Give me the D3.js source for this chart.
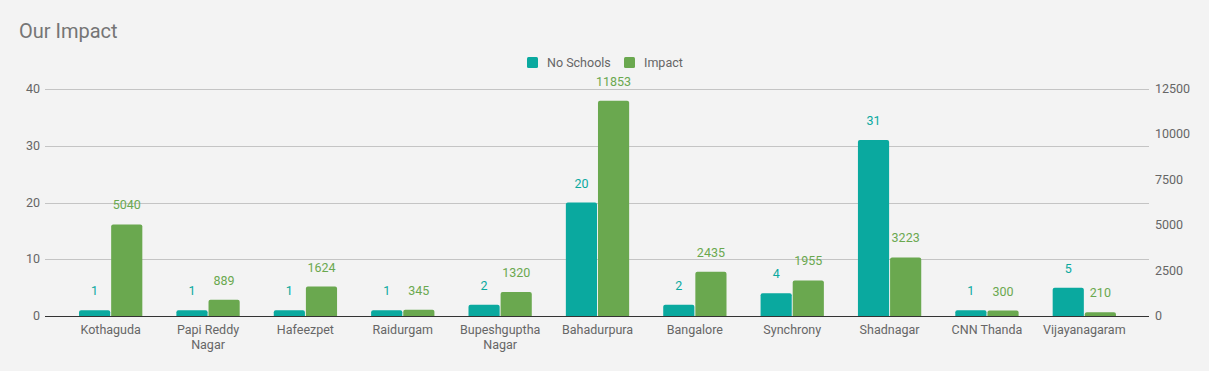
<!DOCTYPE html>
<html>
<head>
<meta charset="utf-8">
<script src="https://cdn.jsdelivr.net/npm/d3@7"></script>
<style>
  body { margin: 0; background: #f3f3f3; }
  text { font-family: Roboto, "Noto Sans", sans-serif; }
</style>
</head>
<body>
<div id="chart"></div>
<script>
const categories = ['Kothaguda', 'Papi Reddy Nagar', 'Hafeezpet', 'Raidurgam', 'Bupeshguptha Nagar',
  'Bahadurpura', 'Bangalore', 'Synchrony', 'Shadnagar', 'CNN Thanda', 'Vijayanagaram']
const schools = [1, 1, 1, 1, 2, 20, 2, 4, 31, 1, 5]
const impact = [5040, 889, 1624, 345, 1320, 11853, 2435, 1955, 3223, 300, 210]
const leftTicks = [0, 10, 20, 30, 40]
const rightTicks = [0, 2500, 5000, 7500, 10000, 12500]
const seriesNames = ['No Schools', 'Impact']

const W = 1209, H = 371
const teal = '#0aa99f', green = '#6aa84f'

const svg = d3.select('#chart').append('svg').attr('width', W).attr('height', H)
svg.append('rect').attr('width', W).attr('height', H).attr('fill', '#f3f3f3')

svg.append('text').attr('x', 19).attr('y', 38).text('Our Impact')
  .attr('font-size', 20).attr('fill', '#757575')

const gridL = 45, gridR = 1149
const yL = d3.scaleLinear().domain([0, 40]).range([316, 89])
const yR = d3.scaleLinear().domain([0, 12500]).range([316, 89])
const x = d3.scaleBand().domain(categories).range([62, 1133]).paddingInner(0.35).paddingOuter(0.175)
const x1 = d3.scaleBand().domain(seriesNames).range([0, x.bandwidth()]).paddingInner(0.03)

// gridlines
svg.selectAll('line.grid').data(leftTicks.filter(d => d > 0)).enter().append('line')
  .attr('x1', gridL).attr('x2', gridR)
  .attr('y1', d => Math.round(yL(d)) + 0.5).attr('y2', d => Math.round(yL(d)) + 0.5)
  .attr('stroke', '#c4c4c4').attr('stroke-width', 1)

// left axis labels
svg.selectAll('text.yl').data(leftTicks).enter().append('text')
  .attr('x', 40).attr('y', d => yL(d) + 4).attr('text-anchor', 'end')
  .attr('font-size', 12.5).attr('fill', '#666').text(d => d)

// right axis labels
svg.selectAll('text.yr').data(rightTicks).enter().append('text')
  .attr('x', 1155).attr('y', d => yR(d) + 4).attr('text-anchor', 'start')
  .attr('font-size', 12.5).attr('fill', '#666').text(d => d)

function topRounded(x0, y0, w, h, r) {
  r = Math.min(r, h, w / 2)
  return `M${x0},${y0 + h}V${y0 + r}Q${x0},${y0} ${x0 + r},${y0}H${x0 + w - r}Q${x0 + w},${y0} ${x0 + w},${y0 + r}V${y0 + h}Z`
}

const rows = categories.map((c, i) => ({ c, s: schools[i], m: impact[i] }))
const g = svg.selectAll('g.cat').data(rows).enter().append('g')
  .attr('transform', d => `translate(${x(d.c)},0)`)

g.append('path')
  .attr('d', d => topRounded(x1('No Schools'), yL(d.s), x1.bandwidth(), 316 - yL(d.s), 2))
  .attr('fill', teal)
g.append('path')
  .attr('d', d => topRounded(x1('Impact'), yR(d.m), x1.bandwidth(), 316 - yR(d.m), 2))
  .attr('fill', green)

g.append('text').attr('x', x1('No Schools') + x1.bandwidth() / 2).attr('y', d => yL(d.s) - 15)
  .attr('text-anchor', 'middle').attr('font-size', 12.5).attr('fill', teal).text(d => d.s)
g.append('text').attr('x', x1('Impact') + x1.bandwidth() / 2).attr('y', d => yR(d.m) - 15)
  .attr('text-anchor', 'middle').attr('font-size', 12.5).attr('fill', green).text(d => d.m)

// category labels, wrapping long names onto two lines
g.each(function (d) {
  const words = d.c.split(' ')
  let lines = [d.c]
  if (d.c.length > 14) {
    lines = [words.slice(0, -1).join(' '), words[words.length - 1]]
  }
  const t = d3.select(this).append('text').attr('text-anchor', 'middle')
    .attr('font-size', 12.5).attr('fill', '#666')
  lines.forEach((l, k) => {
    t.append('tspan').attr('x', x.bandwidth() / 2).attr('y', 334 + k * 15).text(l)
  })
})

// baseline
svg.append('line').attr('x1', gridL).attr('x2', gridR).attr('y1', 316.5).attr('y2', 316.5)
  .attr('stroke', '#333').attr('stroke-width', 1)

// legend
const legend = svg.append('g')
const items = [{ n: 'No Schools', c: teal, x: 527 }, { n: 'Impact', c: green, x: 624 }]
items.forEach(it => {
  legend.append('rect').attr('x', it.x).attr('y', 57).attr('width', 11).attr('height', 11)
    .attr('rx', 1.5).attr('fill', it.c)
  legend.append('text').attr('x', it.x + 20).attr('y', 67).attr('font-size', 12.5)
    .attr('fill', '#666').text(it.n)
})
</script>
</body>
</html>
